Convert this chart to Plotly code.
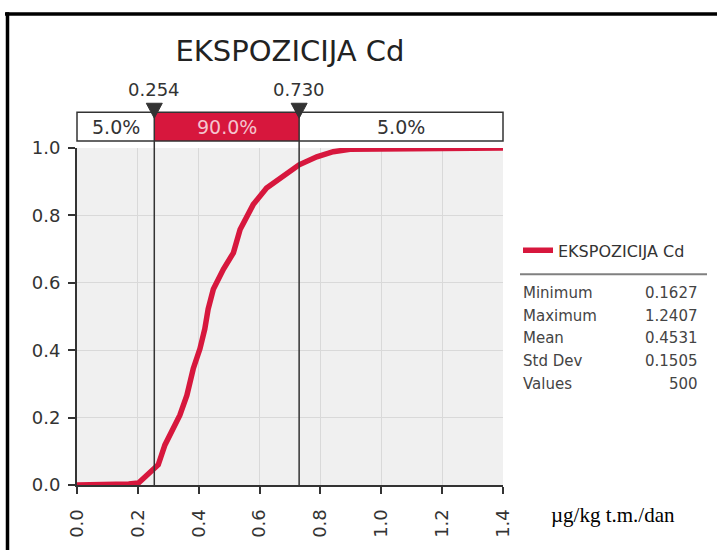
import plotly.graph_objects as go

# cumulative curve
cdf_x = [0.0, 0.163, 0.17, 0.202, 0.229, 0.254, 0.267, 0.289, 0.317, 0.338, 0.361, 0.382,
         0.404, 0.42, 0.431, 0.448, 0.481, 0.514, 0.536, 0.579, 0.623, 0.678, 0.730,
         0.788, 0.842, 0.897, 1.0, 1.1, 1.241, 1.4]
cdf_y = [0.0, 0.0, 0.003, 0.006, 0.030, 0.05, 0.06, 0.119, 0.168, 0.207, 0.266, 0.345,
         0.404, 0.463, 0.522, 0.581, 0.640, 0.689, 0.758, 0.832, 0.881, 0.915, 0.95,
         0.974, 0.989, 0.996, 0.997, 0.998, 1.0, 1.0]

series_name = "EKSPOZICIJA Cd"
pct_values = [0.254, 0.730]
band_labels = ["5.0%", "90.0%", "5.0%"]
stat_names = ["Minimum", "Maximum", "Mean", "Std Dev", "Values"]
stat_values = ["0.1627", "1.2407", "0.4531", "0.1505", "500"]
x_ticks = [0.0, 0.2, 0.4, 0.6, 0.8, 1.0, 1.2, 1.4]
y_ticks = [0.0, 0.2, 0.4, 0.6, 0.8, 1.0]
unit_label = "µg/kg t.m./dan"

RED = "#d7173d"
DARK = "#333333"
FONT = "DejaVu Sans"

# plot area in pixels
L, R, T, B = 77, 503, 148, 487
W, H = 717, 550
X_MAX = 1.4


def px_x(px):
    return (px - L) / (R - L)


def px_y(py):
    return (B - py) / (B - T)


fig = go.Figure()
fig.add_trace(go.Scatter(x=cdf_x, y=cdf_y, mode="lines", name=series_name,
                         line=dict(color=RED, width=5.5), showlegend=True))

shapes = []
band_y0, band_y1 = px_y(141), px_y(112)
# red middle band
shapes.append(dict(type="rect", xref="x", yref="paper", x0=pct_values[0], x1=pct_values[1],
                   y0=band_y0, y1=band_y1, fillcolor=RED, line=dict(width=0), layer="above"))
# band outline
shapes.append(dict(type="rect", xref="paper", yref="paper", x0=0, x1=1,
                   y0=band_y0, y1=band_y1, line=dict(color=DARK, width=1.5), layer="above"))
# percentile lines + triangle markers
half_w = 8 / (R - L) * X_MAX
for p in pct_values:
    shapes.append(dict(type="line", xref="x", yref="paper", x0=p, x1=p, y0=0, y1=band_y1,
                       line=dict(color=DARK, width=1.5), layer="above"))
    shapes.append(dict(type="path", xref="x", yref="paper",
                       path=f"M {p - half_w},{px_y(103)} L {p + half_w},{px_y(103)} "
                            f"L {p},{px_y(118)} Z",
                       fillcolor=DARK, line=dict(color=DARK, width=1), layer="above"))
# legend separator
shapes.append(dict(type="line", xref="paper", yref="paper", x0=px_x(520), x1=px_x(707),
                   y0=px_y(275), y1=px_y(275), line=dict(color="#808080", width=2)))
# outer frame (top and left only)
shapes.append(dict(type="line", xref="paper", yref="paper", x0=px_x(5), x1=px_x(720),
                   y0=px_y(13.3), y1=px_y(13.3), line=dict(color="black", width=3.5)))
shapes.append(dict(type="line", xref="paper", yref="paper", x0=px_x(7.5), x1=px_x(7.5),
                   y0=px_y(11.5), y1=px_y(555), line=dict(color="black", width=3.5)))

annotations = []
# band labels
band_edges = [0.0] + pct_values + [X_MAX]
for i, lab in enumerate(band_labels):
    annotations.append(dict(x=(band_edges[i] + band_edges[i + 1]) / 2, y=(band_y0 + band_y1) / 2,
                            xref="x", yref="paper", text=lab, showarrow=False,
                            yanchor="middle",
                            font=dict(family=FONT, size=19,
                                      color="#f4c4cf" if i == 1 else DARK)))
# percentile value labels
for p in pct_values:
    annotations.append(dict(x=p, y=px_y(89), xref="x", yref="paper", text=f"{p:.3f}",
                            showarrow=False, yanchor="middle",
                            font=dict(family=FONT, size=18, color=DARK)))
# stats table
for i, (nm, val) in enumerate(zip(stat_names, stat_values)):
    yy = px_y(294 + 22.8 * i)
    annotations.append(dict(x=px_x(521), y=yy, xref="paper", yref="paper", text=nm,
                            xanchor="left", yanchor="middle", showarrow=False,
                            font=dict(family=FONT, size=15, color="#444444")))
    annotations.append(dict(x=px_x(700), y=yy, xref="paper", yref="paper", text=val,
                            xanchor="right", yanchor="middle", showarrow=False,
                            font=dict(family=FONT, size=15, color="#444444")))
# unit label
annotations.append(dict(x=px_x(549), y=px_y(517), xref="paper", yref="paper", text=unit_label,
                        xanchor="left", yanchor="middle", showarrow=False,
                        font=dict(family="Liberation Serif", size=21, color="black")))

fig.update_layout(
    width=W, height=H,
    margin=dict(l=L, r=W - R, t=T, b=H - B),
    paper_bgcolor="white", plot_bgcolor="#f0f0f0",
    title=dict(text=series_name, x=px_x(290), xref="paper", y=1 - 51 / H, yanchor="middle",
               xanchor="center", font=dict(family=FONT, size=29, color="#222222")),
    font=dict(family=FONT, color=DARK),
    showlegend=True,
    legend=dict(x=px_x(518), y=px_y(251), xanchor="left", yanchor="middle",
                bgcolor="rgba(0,0,0,0)", itemwidth=30,
                font=dict(family=FONT, size=16, color=DARK)),
    shapes=shapes, annotations=annotations,
)
fig.update_xaxes(range=[0, X_MAX], tickvals=x_ticks, tickformat=".1f", tickangle=-90,
                 showline=True, linecolor=DARK, linewidth=2, ticks="outside", ticklen=7,
                 tickwidth=1.5, tickcolor=DARK, showgrid=True, gridcolor="#d9d9d9",
                 zeroline=False, tickfont=dict(size=18, color=DARK), ticklabelstandoff=8)
fig.update_yaxes(range=[0, 1.0], tickvals=y_ticks, tickformat=".1f",
                 showline=True, linecolor=DARK, linewidth=2, ticks="outside", ticklen=7,
                 tickwidth=1.5, tickcolor=DARK, showgrid=True, gridcolor="#d9d9d9",
                 zeroline=False, tickfont=dict(size=18, color=DARK), ticklabelstandoff=4)

fig.write_html("out.html", config={"displayModeBar": False},
               post_script="document.body.style.margin='0';")
